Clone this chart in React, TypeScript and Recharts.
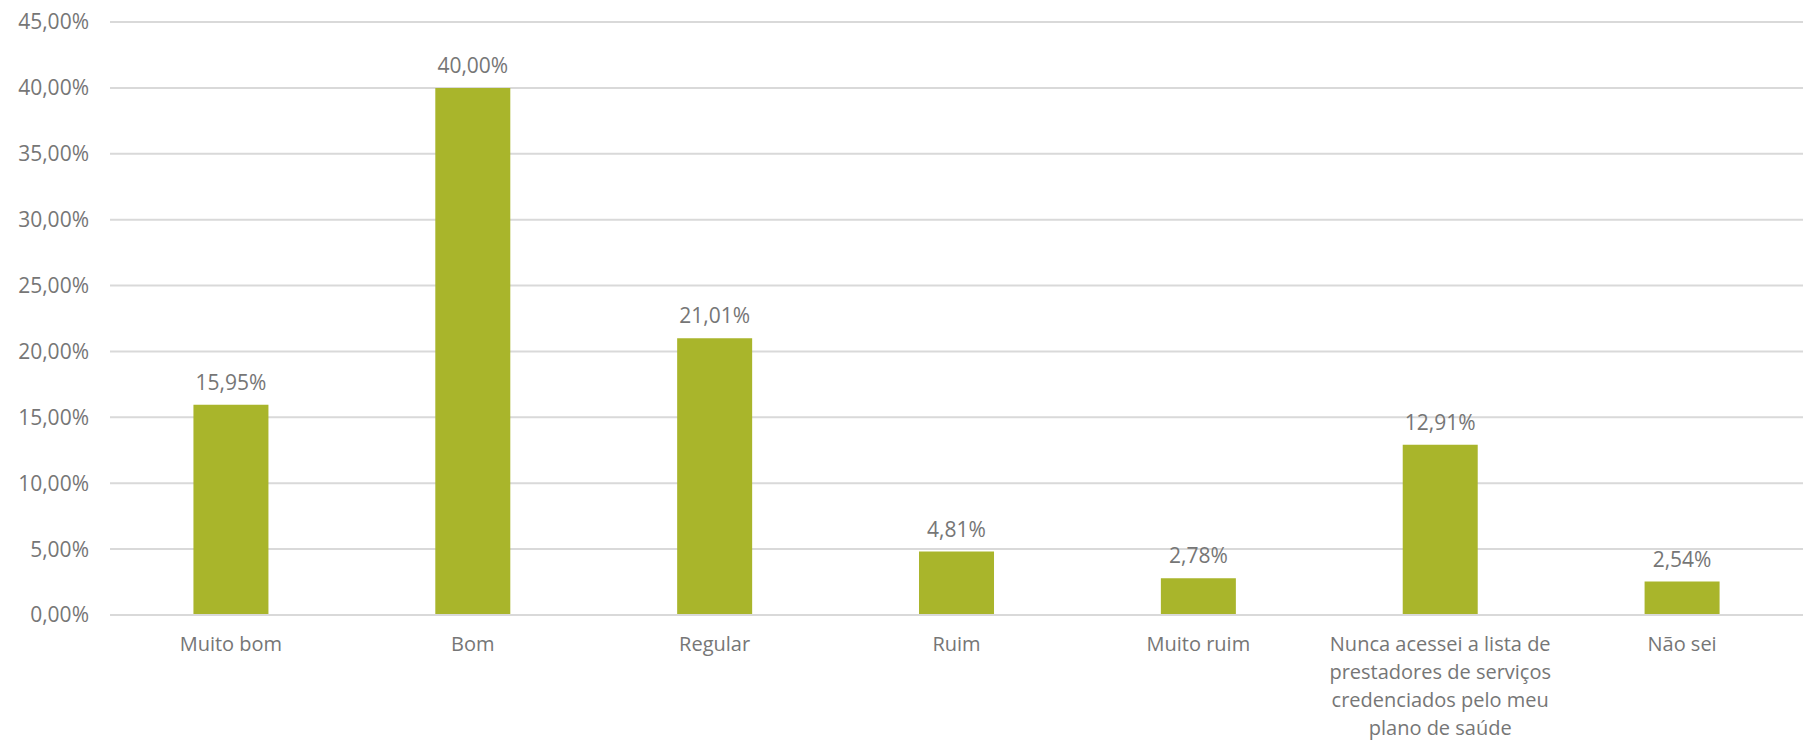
import { Bar, BarChart, CartesianGrid, LabelList, XAxis, YAxis } from "recharts";

const categories = [
  "Muito bom",
  "Bom",
  "Regular",
  "Ruim",
  "Muito ruim",
  "Nunca acessei a lista de\nprestadores de serviços\ncredenciados pelo meu\nplano de saúde",
  "Não sei",
];
const values = [15.95, 40.0, 21.01, 4.81, 2.78, 12.91, 2.54];
const yTicks = [0, 5, 10, 15, 20, 25, 30, 35, 40, 45];

const colors = {
  bar: "#a9b52b",
  grid: "#d9d9d9",
  text: "#767676",
};
const font = "'Open Sans', sans-serif";

const data = categories.map((name, i) => ({ name, value: values[i] }));

const pct = (v: number) => `${v.toFixed(2).replace(".", ",")}%`;

function CategoryTick({ x, y, payload }: any) {
  const lines = String(payload.value).split("\n");
  return (
    <text
      x={x}
      y={y + 23}
      textAnchor="middle"
      fill={colors.text}
      fontSize={20}
      fontFamily={font}
      dominantBaseline="middle"
    >
      {lines.map((line, i) => (
        <tspan key={i} x={x} dy={i === 0 ? 0 : 28}>
          {line}
        </tspan>
      ))}
    </text>
  );
}

export default function App() {
  return (
    <div style={{ position: "absolute", left: 0, top: 0, background: "#fff" }}>
      <BarChart
        width={1803}
        height={743}
        data={data}
        margin={{ top: 22, right: 0, bottom: 0, left: 0 }}
        barCategoryGap="34.5%"
      >
        <CartesianGrid vertical={false} stroke={colors.grid} strokeWidth={2} />
        <XAxis
          dataKey="name"
          interval={0}
          height={128}
          axisLine={{ stroke: colors.grid, strokeWidth: 2 }}
          tickLine={false}
          tick={<CategoryTick />}
        />
        <YAxis
          width={110}
          domain={[0, 45]}
          ticks={yTicks}
          axisLine={false}
          tickLine={false}
          tickMargin={15}
          tickFormatter={pct}
          tick={{ fill: colors.text, fontSize: 21, fontFamily: font }}
        />
        <Bar dataKey="value" fill={colors.bar} isAnimationActive={false}>
          <LabelList
            dataKey="value"
            position="top"
            offset={15}
            formatter={(v: any) => pct(Number(v))}
            fill={colors.text}
            fontSize={21}
            fontFamily={font}
          />
        </Bar>
      </BarChart>
    </div>
  );
}
